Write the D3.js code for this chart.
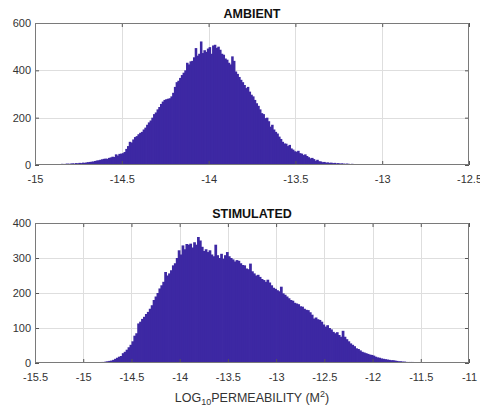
<!DOCTYPE html>
<html>
<head>
<meta charset="utf-8">
<script src="https://cdn.jsdelivr.net/npm/d3@7"></script>
<style>
  body { margin: 0; background: #fff; }
  svg { font-family: "Liberation Sans", Arial, sans-serif; }
</style>
</head>
<body>
<div id="container"></div>
<script>
// Histogram data (bin start, bin width, counts)
const ambientStart = -15.0;
const ambientWidth = 0.01;
const ambientCounts = [
  0,0,1,2,1,2,2,3,2,3,
  3,2,4,3,4,5,4,5,6,5,
  6,7,6,8,7,9,8,10,9,11,
  12,13,14,15,17,19,20,22,24,26,
  27,26,30,32,35,34,45,40,47,48,
  50,55,68,80,98,95,108,118,122,130,
  136,140,150,158,170,180,188,200,215,222,
  235,245,258,268,275,278,280,282,290,305,
  330,350,356,368,380,390,400,432,425,438,
  440,455,494,462,470,522,473,485,478,492,
  498,470,505,508,495,500,487,470,466,450,
  445,432,425,459,440,395,385,372,360,350,
  338,325,330,310,297,290,275,261,250,235,
  219,215,198,200,185,162,170,150,140,133,
  120,110,98,91,90,80,85,70,65,58,
  56,60,50,48,42,45,38,33,28,30,
  25,18,22,16,15,12,13,10,11,9,
  10,8,9,7,8,6,7,6,5,6,
  5,4,5,4,3,4,3,3,4,3,
  3,2,3,2,2,3,2,2,1,2,
  2,1,2,1,1,2,1,1,0,1,
  1,0,1,1,0,1,0,0,1,0
];

const stimStart = -15.0;
const stimWidth = 0.02;
const stimCounts = [
  0,1,0,1,1,
  1,2,1,2,3,
  3,4,5,6,7,
  9,12,15,18,20,
  28,32,38,45,52,
  62,78,85,113,118,
  126,132,140,146,155,
  165,180,190,200,213,
  222,232,260,250,256,
  265,279,285,300,322,
  310,336,325,340,338,
  341,330,345,338,360,
  350,332,320,325,317,
  322,310,305,338,308,
  300,312,298,308,317,
  305,300,296,290,294,
  292,285,280,279,270,
  268,284,262,256,250,
  252,246,240,237,232,
  238,230,222,215,212,
  208,205,218,199,195,
  190,185,180,178,172,
  170,168,162,161,155,
  152,151,145,138,127,
  130,125,123,118,110,
  104,108,100,96,89,
  85,88,80,75,92,
  75,68,62,56,52,
  48,42,40,36,32,
  30,28,26,24,23,
  21,18,16,15,13,
  12,11,10,9,8,
  8,7,6,5,5,
  4,4,3,3,3,
  3,2,2,2,2,
  1,2,1,1,1,
  1,1,0,1,1,
  0,1,0,1,0,
  0,1,0,0,1
];

// Axis ticks
const ambientXTicks = [-15, -14.5, -14, -13.5, -13, -12.5];
const ambientYTicks = [0, 200, 400, 600];
const stimXTicks = [-15.5, -15, -14.5, -14, -13.5, -13, -12.5, -12, -11.5, -11];
const stimYTicks = [0, 100, 200, 300, 400];

const width = 480, height = 407;
const barColor = "#3d28a3";

const svg = d3.select("#container")
  .append("svg")
  .attr("width", width)
  .attr("height", height);

// Draws one histogram panel
function drawPanel(opts) {
  const x = d3.scaleLinear().domain(opts.xDomain).range([opts.left, opts.right]);
  const y = d3.scaleLinear().domain(opts.yDomain).range([opts.bottom, opts.top]);
  const g = svg.append("g");

  // grid
  g.selectAll(".vgrid")
    .data(opts.xTicks.slice(1, -1))
    .enter().append("line")
    .attr("x1", d => Math.round(x(d)) + 0.5)
    .attr("x2", d => Math.round(x(d)) + 0.5)
    .attr("y1", opts.top)
    .attr("y2", opts.bottom)
    .attr("stroke", "#dedede");
  g.selectAll(".hgrid")
    .data(opts.yTicks.slice(1, -1))
    .enter().append("line")
    .attr("x1", opts.left)
    .attr("x2", opts.right)
    .attr("y1", d => Math.round(y(d)) + 0.5)
    .attr("y2", d => Math.round(y(d)) + 0.5)
    .attr("stroke", "#dedede");

  // bars (slight overlap so neighbours leave no hairline gaps)
  g.selectAll(".bar")
    .data(opts.counts)
    .enter().append("rect")
    .attr("x", (d, i) => x(opts.start + i * opts.binWidth))
    .attr("width", (d, i) => x(opts.start + (i + 1) * opts.binWidth) - x(opts.start + i * opts.binWidth) + 0.8)
    .attr("y", d => y(d))
    .attr("height", d => y(0) - y(d))
    .attr("fill", barColor);

  // baseline under the data range
  g.append("line")
    .attr("x1", x(opts.start))
    .attr("x2", x(opts.start + opts.counts.length * opts.binWidth))
    .attr("y1", opts.bottom - 0.5)
    .attr("y2", opts.bottom - 0.5)
    .attr("stroke", "#8c80d4");

  // axes with inward ticks
  const xAxis = g.append("g")
    .attr("transform", "translate(0," + opts.bottom + ")")
    .call(d3.axisBottom(x).tickValues(opts.xTicks).tickSizeInner(-4).tickSizeOuter(0).tickPadding(10)
      .tickFormat(d => String(d)));
  const xTop = g.append("g")
    .attr("transform", "translate(0," + opts.top + ")")
    .call(d3.axisTop(x).tickValues(opts.xTicks).tickSizeInner(-4).tickSizeOuter(0).tickFormat(""));
  const yAxis = g.append("g")
    .attr("transform", "translate(" + opts.left + ",0)")
    .call(d3.axisLeft(y).tickValues(opts.yTicks).tickSizeInner(-4).tickSizeOuter(0).tickPadding(4));
  const yRight = g.append("g")
    .attr("transform", "translate(" + opts.right + ",0)")
    .call(d3.axisRight(y).tickValues(opts.yTicks).tickSizeInner(-4).tickSizeOuter(0).tickFormat(""));

  [xAxis, xTop, yAxis, yRight].forEach(a => {
    a.select(".domain").remove();
    a.selectAll(".tick line").attr("stroke", "#555");
    a.selectAll(".tick text")
      .attr("fill", "#333")
      .attr("font-size", "11px")
      .attr("font-family", "'Liberation Sans', Arial, sans-serif");
  });

  // box
  g.append("rect")
    .attr("x", opts.left + 0.5)
    .attr("y", opts.top + 0.5)
    .attr("width", opts.right - opts.left - 1)
    .attr("height", opts.bottom - opts.top - 1)
    .attr("fill", "none")
    .attr("stroke", "#7a7a7a");

  // title
  g.append("text")
    .attr("x", (opts.left + opts.right) / 2)
    .attr("y", opts.top - 5)
    .attr("text-anchor", "middle")
    .attr("font-size", "12.5px")
    .attr("font-weight", "bold")
    .attr("fill", "#111")
    .text(opts.title);

  return x;
}

drawPanel({
  title: "AMBIENT",
  counts: ambientCounts, start: ambientStart, binWidth: ambientWidth,
  xDomain: [-15, -12.5], yDomain: [0, 600],
  xTicks: ambientXTicks, yTicks: ambientYTicks,
  left: 35, right: 469, top: 23, bottom: 165
});

drawPanel({
  title: "STIMULATED",
  counts: stimCounts, start: stimStart, binWidth: stimWidth,
  xDomain: [-15.5, -11], yDomain: [0, 400],
  xTicks: stimXTicks, yTicks: stimYTicks,
  left: 35, right: 469, top: 223, bottom: 363
});

// x axis label with sub/superscript
const xlabel = svg.append("text")
  .attr("x", 252)
  .attr("y", 402)
  .attr("text-anchor", "middle")
  .attr("font-size", "12.5px")
  .attr("fill", "#333");
xlabel.append("tspan").text("LOG");
xlabel.append("tspan").attr("font-size", "9px").attr("dy", 3).text("10");
xlabel.append("tspan").attr("dy", -3).text("PERMEABILITY (M");
xlabel.append("tspan").attr("font-size", "9px").attr("dy", -5).text("2");
xlabel.append("tspan").attr("dy", 5).text(")");
</script>
</body>
</html>
